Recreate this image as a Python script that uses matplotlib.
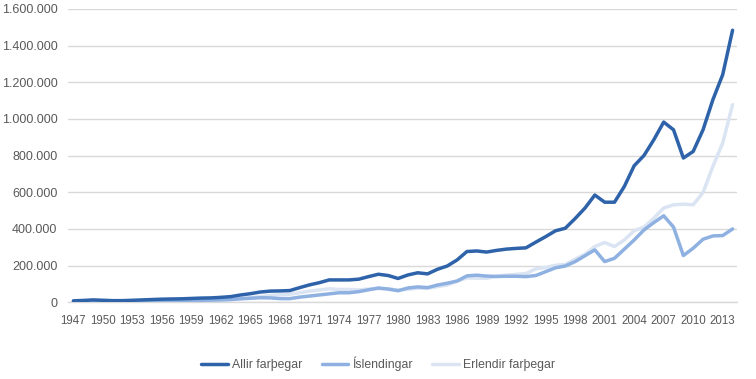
import matplotlib
matplotlib.use("Agg")
import matplotlib.pyplot as plt
from matplotlib.ticker import FuncFormatter, MultipleLocator

years = list(range(1947, 2015))

# values in thousands of passengers
allir = [8, 10, 13, 11, 9, 9, 11, 13, 15, 17, 18, 19, 21, 23, 24, 27, 31, 40, 47, 56,
         61, 62, 64, 80, 95, 107, 122, 122, 122, 126, 140, 153, 146, 130, 149, 161, 155,
         180, 198, 231, 277, 280, 274, 283, 290, 294, 297, 328, 358, 390, 404, 457, 514,
         585, 546, 546, 632, 745, 801, 887, 983, 941, 787, 823, 941, 1105, 1242, 1484]

islendingar = [4, 5, 6, 5, 4, 4, 5, 6, 7, 8, 8, 9, 10, 11, 12, 13, 15, 19, 22, 25,
               24, 20, 20, 28, 34, 40, 46, 52, 52, 58, 68, 78, 72, 63, 78, 84, 80,
               94, 104, 116, 144, 148, 143, 141, 142, 142, 140, 146, 167, 188, 198, 222, 254,
               286, 222, 240, 290, 340, 395, 435, 472, 410, 255, 295, 344, 362, 364, 400]

erlendir = [4, 5, 7, 6, 5, 5, 6, 7, 8, 9, 10, 10, 11, 12, 12, 14, 16, 21, 25, 31,
            37, 42, 44, 52, 61, 67, 74, 70, 70, 68, 72, 75, 74, 67, 71, 77, 76,
            86, 94, 115, 133, 132, 131, 142, 148, 152, 157, 182, 190, 202, 206, 235, 262,
            304, 326, 304, 340, 391, 410, 459, 514, 532, 535, 532, 599, 741, 869, 1078]

labels = ["Allir farþegar", "Íslendingar", "Erlendir farþegar"]
colors = ["#2E63AA", "#8FB1E1", "#DAE4F3"]

plt.rcParams['font.family'] = ['Liberation Sans', 'DejaVu Sans']

fig = plt.figure(figsize=(7.56, 3.79), dpi=100)
ax = fig.add_axes([0.0906, 0.2024, 0.8849, 0.7739])

series = [allir, islendingar, erlendir]
order = [2, 1, 0]
lines = {}
for i in order:
    vals = [v * 1000 for v in series[i]]
    ln, = ax.plot(years, vals, color=colors[i], lw=2.5, solid_joinstyle='round',
                  solid_capstyle='round', label=labels[i], zorder=3 + (2 - i))
    lines[i] = ln

ax.set_xlim(1946.5, 2014.5)
ax.set_ylim(0, 1600000)
ax.yaxis.set_major_locator(MultipleLocator(200000))
ax.yaxis.set_major_formatter(FuncFormatter(lambda v, p: f"{int(v):,}".replace(",", ".")))
ax.set_xticks(years[::3])
ax.set_xticklabels([str(y) for y in years[::3]])

ax.grid(axis='y', color='#D9D9D9', lw=1.0)
ax.set_axisbelow(True)
for s in ['top', 'right', 'left']:
    ax.spines[s].set_visible(False)
ax.spines['bottom'].set_color('#D9D9D9')
ax.spines['bottom'].set_linewidth(1.0)
ax.tick_params(axis='both', length=0, colors='#595959')
ax.tick_params(axis='x', pad=9, labelsize=8.3)
ax.tick_params(axis='y', pad=8, labelsize=9)

handles = [lines[0], lines[1], lines[2]]
fig.legend(handles, labels, loc='center', bbox_to_anchor=(0.5, 0.04), ncol=3,
           frameon=False, fontsize=8.8, labelcolor='#595959', handlelength=2.2,
           handletextpad=0.3, columnspacing=1.6)

fig.savefig("out.png", dpi=100)
